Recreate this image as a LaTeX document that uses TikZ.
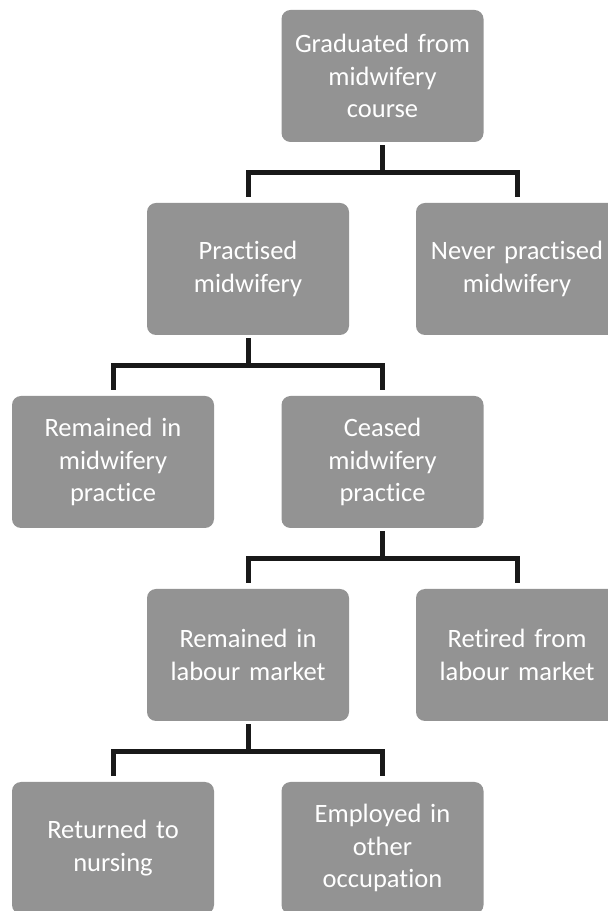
\documentclass[tikz,border=0pt]{standalone}
\usepackage{fontspec}
\setmainfont[Ligatures=NoCommon]{Carlito}
\definecolor{boxgray}{HTML}{939393}
\begin{document}
\begin{tikzpicture}[x=1pt,y=1pt,
  box/.style={fill=boxgray, rounded corners=9pt, minimum width=202pt, minimum height=132pt,
    inner sep=0pt, text=white, align=center, text width=200pt,
    font=\fontsize{26.5}{32.5}\selectfont},
  conn/.style={line width=5pt, line join=miter, draw=black!90}]
\useasboundingbox (0,0) rectangle (608,911);
\clip (0,0) rectangle (608,911);
\node[box] (A) at (382.5,835) {Graduated from\\midwifery\\course};
\node[box] (B) at (248,642) {Practised\\midwifery};
\node[box] (C) at (517,642) {Never practised\\midwifery};
\node[box] (D) at (113,449) {Remained in\\midwifery\\practice};
\node[box] (E) at (382.5,449) {Ceased\\midwifery\\practice};
\node[box] (F) at (248,256) {Remained in\\labour market};
\node[box] (G) at (517,256) {Retired from\\labour market};
\node[box] (H) at (113,63) {Returned to\\nursing};
\node[box] (I) at (382.5,63) {Employed in\\other\\occupation};
\foreach \p/\l/\r in {A/B/C, B/D/E, E/F/G, F/H/I}{
  \draw[conn] ([yshift=-3pt]\p.south) -- ([yshift=-30pt]\p.south);
  \draw[conn] ([yshift=6pt]\l.north) |- ([yshift=-30pt]\p.south) -| ([yshift=6pt]\r.north);
}
\end{tikzpicture}
\end{document}
